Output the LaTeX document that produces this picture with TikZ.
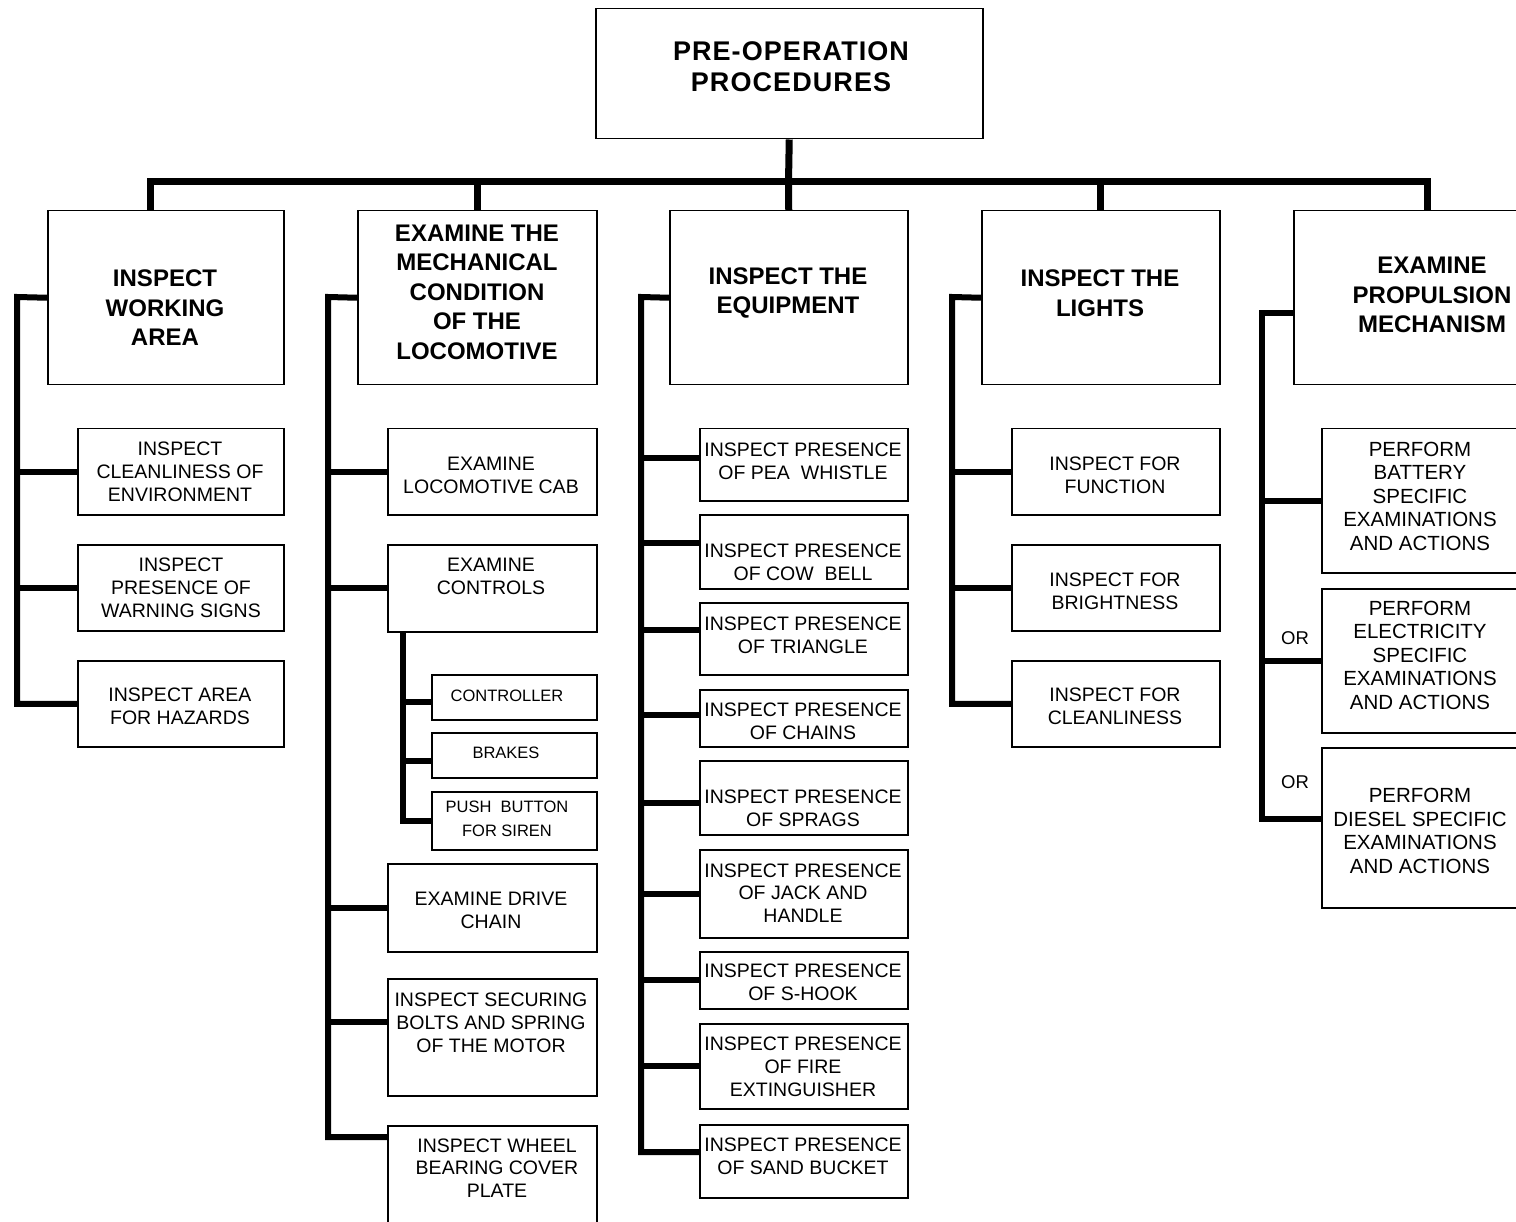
\documentclass[tikz,border=0pt]{standalone}
\usepackage{fontspec}
\setmainfont{Liberation Sans}
\usetikzlibrary{calc}
\tikzset{
  boxs/.style={draw=black, line width=1.5pt, inner sep=0pt, anchor=north west},
  conn/.style={line width=6pt, line join=miter},
  subconn/.style={line width=5.5pt, line join=miter},
  busline/.style={line width=7pt, line join=miter},
  tnorm/.style={align=center, inner sep=0pt, font=\fontsize{19.5}{22.8}\selectfont},
  tbold/.style={align=center, inner sep=0pt, font=\bfseries\fontsize{24}{29.5}\selectfont},
  ttop/.style={align=center, inner sep=0pt, font=\bfseries\fontsize{27}{31}\selectfont\addfontfeature{LetterSpace=4}},
  tsmall/.style={align=center, inner sep=0pt, font=\fontsize{16.5}{24}\selectfont},
  tbig/.style={align=center, inner sep=0pt, font=\fontsize{20.5}{23.5}\selectfont},
  tor/.style={inner sep=0pt, font=\fontsize{18.5}{22}\selectfont},
}
% name, x1, y1, x2, y2, text style, text cx, text cy, text
\newcommand\bx[9]{%
  \node[boxs, minimum width=#4pt-#2pt, minimum height=#5pt-#3pt] (#1) at (#2,#3) {};
  \node[#6] (#1t) at (#7,#8) {#9};}
\begin{document}
\begin{tikzpicture}[x=1pt, y=-1pt]
\useasboundingbox (0,0) rectangle (1516,1222);
\clip (0,0) rectangle (1516,1222);

% top
\bx{top}{595}{8}{982}{138}{ttop}{791}{67}{PRE-OPERATION\\PROCEDURES}

% level 1
\bx{b1}{47}{210}{283}{384}{tbold}{165}{308}{INSPECT\\WORKING\\AREA}
\bx{b2}{357}{210}{596}{384}{tbold}{477}{292}{EXAMINE THE\\MECHANICAL\\CONDITION\\OF THE\\LOCOMOTIVE}
\bx{b3}{669}{210}{907}{384}{tbold}{788}{293}{INSPECT THE\\EQUIPMENT}
\bx{b4}{981}{210}{1219}{384}{tbold}{1100}{293}{INSPECT THE\\LIGHTS}
\bx{b5}{1293}{210}{1560}{384}{tbold}{1432}{295}{EXAMINE\\PROPULSION\\MECHANISM}

% column 1
\bx{c11}{77}{428}{283}{514}{tnorm}{180}{472}{INSPECT\\CLEANLINESS OF\\ENVIRONMENT}
\bx{c12}{77}{544}{283}{630}{tnorm}{181}{588}{INSPECT\\PRESENCE OF\\WARNING SIGNS}
\bx{c13}{77}{660}{283}{746}{tnorm}{180}{706}{INSPECT AREA\\FOR HAZARDS}

% column 2
\bx{c21}{387}{428}{596}{514}{tnorm}{491}{475}{EXAMINE\\LOCOMOTIVE CAB}
\bx{c22}{387}{544}{596}{631}{tnorm}{491}{576}{EXAMINE\\CONTROLS}
\bx{c23}{431}{674}{596}{719}{tsmall}{507}{696}{CONTROLLER}
\bx{c24}{431}{732}{596}{777}{tsmall}{506}{753}{BRAKES}
\bx{c25}{431}{791}{596}{849}{tsmall}{507}{819}{PUSH\ \ BUTTON\\FOR SIREN}
\bx{c26}{387}{863}{596}{951}{tnorm}{491}{910}{EXAMINE DRIVE\\CHAIN}
\bx{c27}{387}{978}{596}{1095}{tnorm}{491}{1023}{INSPECT SECURING\\BOLTS AND SPRING\\OF THE MOTOR}
\bx{c28}{387}{1125}{596}{1240}{tnorm}{497}{1168}{INSPECT WHEEL\\BEARING COVER\\PLATE}

% column 3
\bx{c31}{699}{428}{907}{500}{tnorm}{803}{461}{INSPECT PRESENCE\\OF PEA\ \ WHISTLE}
\bx{c32}{699}{514}{907}{588}{tnorm}{803}{562}{INSPECT PRESENCE\\OF COW\ \ BELL}
\bx{c33}{699}{602}{907}{674}{tnorm}{803}{635}{INSPECT PRESENCE\\OF TRIANGLE}
\bx{c34}{699}{689}{907}{746}{tnorm}{803}{721}{INSPECT PRESENCE\\OF CHAINS}
\bx{c35}{699}{760}{907}{834}{tnorm}{803}{808}{INSPECT PRESENCE\\OF SPRAGS}
\bx{c36}{699}{849}{907}{937}{tnorm}{803}{893}{INSPECT PRESENCE\\OF JACK AND\\HANDLE}
\bx{c37}{699}{951}{907}{1008}{tnorm}{803}{982}{INSPECT PRESENCE\\OF S-HOOK}
\bx{c38}{699}{1023}{907}{1108}{tnorm}{803}{1067}{INSPECT PRESENCE\\OF FIRE\\EXTINGUISHER}
\bx{c39}{699}{1124}{907}{1197}{tnorm}{803}{1156}{INSPECT PRESENCE\\OF SAND BUCKET}

% column 4
\bx{c41}{1011}{428}{1219}{514}{tnorm}{1115}{475}{INSPECT FOR\\FUNCTION}
\bx{c42}{1011}{544}{1219}{630}{tnorm}{1115}{591}{INSPECT FOR\\BRIGHTNESS}
\bx{c43}{1011}{660}{1219}{746}{tnorm}{1115}{706}{INSPECT FOR\\CLEANLINESS}

% column 5
\bx{c51}{1321}{428}{1560}{572}{tbig}{1420}{496}{PERFORM\\BATTERY\\SPECIFIC\\EXAMINATIONS\\AND ACTIONS}
\bx{c52}{1321}{588}{1560}{732}{tbig}{1420}{655}{PERFORM\\ELECTRICITY\\SPECIFIC\\EXAMINATIONS\\AND ACTIONS}
\bx{c53}{1321}{747}{1560}{907}{tbig}{1420}{831}{PERFORM\\DIESEL SPECIFIC\\EXAMINATIONS\\AND ACTIONS}
\node[tor] (or1) at (1295,638) {OR};
\node[tor] (or2) at (1295,782) {OR};

% bus
\coordinate (bus) at (788.5,182);
\draw[busline] (top.south) -- (bus);
\draw[busline] ([xshift=-15pt]b1.north) |- (bus);
\draw[busline] (b2.north) |- (bus);
\draw[busline] (b3.north) -- (bus);
\draw[busline] (b4.north) |- (bus);
\draw[busline] (b5.north) |- (bus);

% column 1 spine
\coordinate (s1) at (17,297);
\draw[conn] (b1.west) -- (s1) |- (c13.west);
\draw[conn] (s1 |- c11.west) -- (c11.west);
\draw[conn] (s1 |- c12.west) -- (c12.west);

% column 2 spine
\coordinate (s2) at (328,297);
\coordinate (p27) at (387,1022);
\coordinate (p28) at (387,1137);
\draw[conn] (b2.west) -- (s2) |- (p28);
\draw[conn] (s2 |- c21.west) -- (c21.west);
\draw[conn] (s2 |- c22.west) -- (c22.west);
\draw[conn] (s2 |- c26.west) -- (c26.west);
\draw[conn] (s2 |- p27) -- (p27);
% controls sub-spine
\coordinate (ss) at (403,631);
\coordinate (p23) at (431,702);
\coordinate (p24) at (431,761);
\draw[subconn] (ss) |- (c25.west);
\draw[subconn] (ss |- p23) -- (p23);
\draw[subconn] (ss |- p24) -- (p24);

% column 3 spine
\coordinate (s3) at (641,297);
\coordinate (p31) at (699,458);
\coordinate (p32) at (699,543);
\coordinate (p33) at (699,630);
\coordinate (p34) at (699,715);
\coordinate (p35) at (699,803);
\coordinate (p39) at (699,1152);
\draw[conn] (b3.west) -- (s3) |- (p39);
\draw[conn] (s3 |- p31) -- (p31);
\draw[conn] (s3 |- p32) -- (p32);
\draw[conn] (s3 |- p33) -- (p33);
\draw[conn] (s3 |- p34) -- (p34);
\draw[conn] (s3 |- p35) -- (p35);
\draw[conn] (s3 |- c36.west) -- (c36.west);
\draw[conn] (s3 |- c37.west) -- (c37.west);
\draw[conn] (s3 |- c38.west) -- (c38.west);

% column 4 spine
\coordinate (s4) at (952,297);
\draw[conn] (b4.west) -- (s4) |- (c43.west);
\draw[conn] (s4 |- c41.west) -- (c41.west);
\draw[conn] (s4 |- c42.west) -- (c42.west);

% column 5 spine
\coordinate (p50) at (1293,313);
\coordinate (s5) at (1262,313);
\coordinate (p53) at (1321,819);
\draw[conn] (p50) -- (s5) |- (p53);
\draw[conn] (s5 |- c51.west) -- (c51.west);
\draw[conn] (s5 |- c52.west) -- (c52.west);
\end{tikzpicture}
\end{document}
